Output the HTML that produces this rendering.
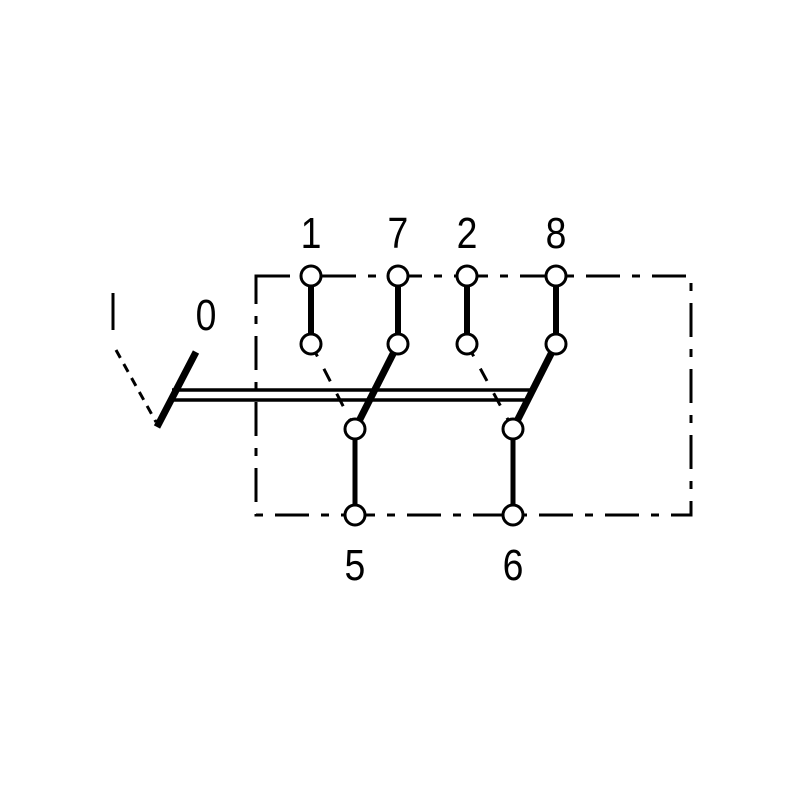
<!DOCTYPE html>
<html><head><style>body{margin:0;background:#fff}</style></head><body>
<svg width="800" height="800" viewBox="0 0 800 800" xmlns="http://www.w3.org/2000/svg">
<rect width="800" height="800" fill="#fff"/>
<rect x="256" y="276" width="435" height="239" fill="none" stroke="#000" stroke-width="3" stroke-dasharray="34,12,8,12"/>
<line x1="172" y1="390" x2="532" y2="390" stroke="#000" stroke-width="3.5"/>
<line x1="168" y1="400" x2="528" y2="400" stroke="#000" stroke-width="3.5"/>
<polyline points="157,427 196,352" stroke="#000" stroke-width="7" fill="none"/>
<line x1="116" y1="350" x2="156" y2="422" stroke="#000" stroke-width="3" stroke-dasharray="9,7"/>
<line x1="113" y1="293" x2="113" y2="330" stroke="#000" stroke-width="3"/>
<g stroke="#000" stroke-width="6">
<line x1="311" y1="276" x2="311" y2="344"/>
<line x1="398" y1="276" x2="398" y2="344"/>
<line x1="467" y1="276" x2="467" y2="344"/>
<line x1="556" y1="276" x2="556" y2="344"/>
<line x1="355" y1="429" x2="355" y2="515" stroke-width="5"/>
<line x1="513" y1="429" x2="513" y2="515" stroke-width="5"/>
<line x1="398" y1="344" x2="355" y2="429" stroke-width="7"/>
<line x1="556" y1="344" x2="513" y2="429" stroke-width="7"/>
</g>
<g stroke="#000" stroke-width="3">
<line x1="311" y1="344" x2="355" y2="429" stroke-dasharray="14,14"/>
<line x1="467" y1="344" x2="513" y2="429" stroke-dasharray="14,14"/>
</g>
<g fill="#fff" stroke="#000" stroke-width="3">
<circle cx="311" cy="276" r="10"/><circle cx="398" cy="276" r="10"/>
<circle cx="467" cy="276" r="10"/><circle cx="556" cy="276" r="10"/>
<circle cx="311" cy="344" r="10"/><circle cx="398" cy="344" r="10"/>
<circle cx="467" cy="344" r="10"/><circle cx="556" cy="344" r="10"/>
<circle cx="355" cy="429" r="10"/><circle cx="513" cy="429" r="10"/>
<circle cx="355" cy="515" r="10"/><circle cx="513" cy="515" r="10"/>
</g>
<g font-family="Liberation Sans, sans-serif" font-size="44" text-anchor="middle" fill="#000" transform="scale(0.85,1)">
<text x="365.9" y="248">1</text>
<text x="468.2" y="248">7</text>
<text x="549.4" y="248">2</text>
<text x="654.1" y="248">8</text>
<text x="242.4" y="330">0</text>
<text x="417.6" y="580">5</text>
<text x="603.5" y="580">6</text>
</g>
</svg>
</body></html>
